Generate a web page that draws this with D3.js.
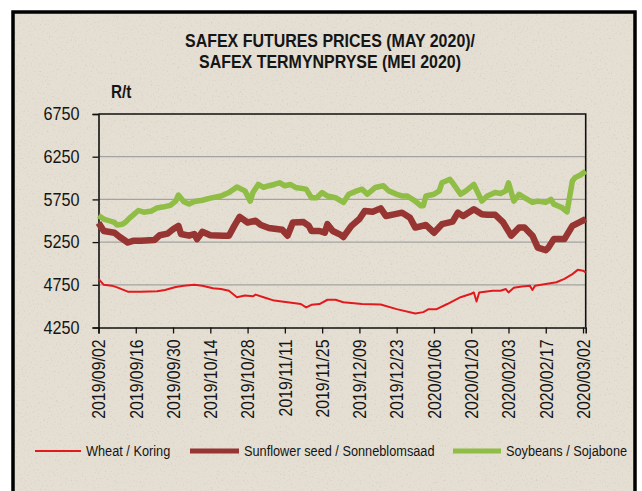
<!DOCTYPE html>
<html>
<head>
<meta charset="utf-8">
<script src="https://cdn.jsdelivr.net/npm/d3@7"></script>
<style>
  body { margin: 0; background: #fff; }
  svg text { font-family: "Liberation Sans", Arial, sans-serif; fill: #151515; }
</style>
</head>
<body>
<div id="chart"></div>
<script>
const titleLines = ["SAFEX FUTURES PRICES (MAY 2020)/", "SAFEX TERMYNPRYSE (MEI 2020)"];
const yTicks = [4250, 4750, 5250, 5750, 6250, 6750];
const xTicks = ["2019/09/02", "2019/09/16", "2019/09/30", "2019/10/14", "2019/10/28",
  "2019/11/11", "2019/11/25", "2019/12/09", "2019/12/23", "2020/01/06",
  "2020/01/20", "2020/02/03", "2020/02/17", "2020/03/02"];
const xDomain = ["2019/09/02", "2020/03/03"];
const seriesNames = ["Wheat / Koring", "Sunflower seed / Sonneblomsaad", "Soybeans / Sojabone"];

const wheat = [
  ["2019/09/02", 4820], ["2019/09/04", 4750], ["2019/09/07", 4740], ["2019/09/09", 4720],
  ["2019/09/13", 4670], ["2019/09/18", 4670], ["2019/09/24", 4675], ["2019/09/27", 4690],
  ["2019/10/01", 4725], ["2019/10/04", 4740], ["2019/10/08", 4750], ["2019/10/11", 4740],
  ["2019/10/15", 4710], ["2019/10/18", 4700], ["2019/10/21", 4680], ["2019/10/24", 4605],
  ["2019/10/27", 4625], ["2019/10/30", 4615], ["2019/10/31", 4635], ["2019/11/03", 4605],
  ["2019/11/07", 4565], ["2019/11/12", 4545], ["2019/11/17", 4525], ["2019/11/19", 4485],
  ["2019/11/21", 4515], ["2019/11/24", 4525], ["2019/11/27", 4575], ["2019/11/30", 4575],
  ["2019/12/03", 4545], ["2019/12/10", 4525], ["2019/12/17", 4520], ["2019/12/23", 4465],
  ["2019/12/30", 4415], ["2020/01/02", 4430], ["2020/01/04", 4465], ["2020/01/07", 4465],
  ["2020/01/11", 4525], ["2020/01/16", 4605], ["2020/01/20", 4645], ["2020/01/21", 4660],
  ["2020/01/22", 4555], ["2020/01/23", 4660], ["2020/01/28", 4680], ["2020/01/31", 4680],
  ["2020/02/02", 4700], ["2020/02/03", 4660], ["2020/02/05", 4715], ["2020/02/08", 4730],
  ["2020/02/11", 4740], ["2020/02/12", 4690], ["2020/02/13", 4740], ["2020/02/17", 4760],
  ["2020/02/21", 4780], ["2020/02/24", 4820], ["2020/02/27", 4875], ["2020/02/29", 4925],
  ["2020/03/02", 4915], ["2020/03/03", 4895]
];

const sunflower = [
  ["2019/09/02", 5475], ["2019/09/04", 5380], ["2019/09/08", 5360], ["2019/09/10", 5310],
  ["2019/09/13", 5245], ["2019/09/15", 5265], ["2019/09/18", 5265], ["2019/09/23", 5275],
  ["2019/09/25", 5330], ["2019/09/28", 5350], ["2019/09/30", 5400], ["2019/10/02", 5440],
  ["2019/10/03", 5345], ["2019/10/06", 5325], ["2019/10/08", 5345], ["2019/10/09", 5285],
  ["2019/10/11", 5370], ["2019/10/14", 5330], ["2019/10/19", 5325], ["2019/10/21", 5325],
  ["2019/10/23", 5440], ["2019/10/25", 5545], ["2019/10/28", 5480], ["2019/10/31", 5500],
  ["2019/11/02", 5450], ["2019/11/05", 5415], ["2019/11/10", 5395], ["2019/11/12", 5325],
  ["2019/11/14", 5480], ["2019/11/18", 5485], ["2019/11/20", 5440], ["2019/11/21", 5380],
  ["2019/11/24", 5380], ["2019/11/26", 5360], ["2019/11/27", 5460], ["2019/11/29", 5380],
  ["2019/12/02", 5335], ["2019/12/03", 5310], ["2019/12/06", 5440], ["2019/12/09", 5520],
  ["2019/12/11", 5615], ["2019/12/14", 5605], ["2019/12/17", 5645], ["2019/12/19", 5555],
  ["2019/12/22", 5575], ["2019/12/25", 5595], ["2019/12/28", 5535], ["2019/12/30", 5420],
  ["2020/01/03", 5450], ["2020/01/06", 5360], ["2020/01/09", 5460], ["2020/01/13", 5490],
  ["2020/01/15", 5595], ["2020/01/17", 5555], ["2020/01/21", 5635], ["2020/01/24", 5575],
  ["2020/01/26", 5570], ["2020/01/29", 5570], ["2020/02/01", 5480], ["2020/02/04", 5325],
  ["2020/02/07", 5420], ["2020/02/09", 5420], ["2020/02/12", 5325], ["2020/02/14", 5185],
  ["2020/02/17", 5155], ["2020/02/18", 5185], ["2020/02/20", 5285], ["2020/02/24", 5285],
  ["2020/02/27", 5440], ["2020/03/03", 5520]
];

const soybeans = [
  ["2019/09/02", 5560], ["2019/09/04", 5520], ["2019/09/06", 5500], ["2019/09/08", 5480],
  ["2019/09/09", 5450], ["2019/09/11", 5460], ["2019/09/12", 5480], ["2019/09/14", 5540],
  ["2019/09/17", 5620], ["2019/09/19", 5600], ["2019/09/22", 5615], ["2019/09/24", 5650],
  ["2019/09/26", 5660], ["2019/09/29", 5680], ["2019/10/01", 5730], ["2019/10/02", 5800],
  ["2019/10/04", 5725], ["2019/10/06", 5695], ["2019/10/08", 5725], ["2019/10/11", 5740],
  ["2019/10/14", 5765], ["2019/10/18", 5790], ["2019/10/21", 5830], ["2019/10/24", 5895],
  ["2019/10/27", 5850], ["2019/10/29", 5730], ["2019/10/30", 5830], ["2019/11/01", 5925],
  ["2019/11/03", 5890], ["2019/11/05", 5910], ["2019/11/07", 5925], ["2019/11/09", 5945],
  ["2019/11/11", 5910], ["2019/11/13", 5925], ["2019/11/15", 5890], ["2019/11/19", 5870],
  ["2019/11/21", 5770], ["2019/11/23", 5770], ["2019/11/25", 5830], ["2019/11/27", 5790],
  ["2019/11/30", 5770], ["2019/12/03", 5715], ["2019/12/05", 5810], ["2019/12/08", 5850],
  ["2019/12/10", 5870], ["2019/12/12", 5810], ["2019/12/15", 5890], ["2019/12/18", 5910],
  ["2019/12/20", 5850], ["2019/12/23", 5810], ["2019/12/25", 5790], ["2019/12/27", 5790],
  ["2019/12/30", 5730], ["2020/01/01", 5675], ["2020/01/02", 5675], ["2020/01/03", 5790],
  ["2020/01/06", 5810], ["2020/01/08", 5850], ["2020/01/09", 5945], ["2020/01/12", 5985],
  ["2020/01/13", 5945], ["2020/01/16", 5810], ["2020/01/18", 5850], ["2020/01/21", 5925],
  ["2020/01/24", 5730], ["2020/01/26", 5790], ["2020/01/29", 5830], ["2020/01/31", 5820],
  ["2020/02/02", 5850], ["2020/02/03", 5945], ["2020/02/05", 5730], ["2020/02/07", 5810],
  ["2020/02/09", 5770], ["2020/02/12", 5715], ["2020/02/14", 5730], ["2020/02/17", 5715],
  ["2020/02/19", 5750], ["2020/02/20", 5695], ["2020/02/23", 5655], ["2020/02/25", 5605],
  ["2020/02/27", 5965], ["2020/02/28", 6005], ["2020/03/01", 6035], ["2020/03/03", 6080]
];

const width = 642, height = 491;
const margin = { left: 98.5, right: 56.3, top: 114, bottom: 163.5 };
const parse = d3.timeParse("%Y/%m/%d");
const fmt = d3.timeFormat("%Y/%m/%d");

// squeeze text horizontally (no narrow font installed)
function condense(sel, k) {
  sel.each(function () {
    const w = this.getComputedTextLength();
    d3.select(this).attr("textLength", w * k).attr("lengthAdjust", "spacingAndGlyphs");
  });
}

const svg = d3.select("#chart").append("svg")
  .attr("width", width)
  .attr("height", height);

const defs = svg.append("defs");
const noise = defs.append("filter").attr("id", "speckle")
  .attr("x", 0).attr("y", 0).attr("width", 1).attr("height", 1);
noise.append("feTurbulence")
  .attr("type", "fractalNoise")
  .attr("baseFrequency", 0.55)
  .attr("numOctaves", 2)
  .attr("seed", 7);
noise.append("feColorMatrix")
  .attr("type", "matrix")
  .attr("values", "0 0 0 0 0.45  0 0 0 0 0.42  0 0 0 0 0.38  3.2 0 0 0 -1.85");

// outer frame
svg.append("rect")
  .attr("x", 13).attr("y", 12)
  .attr("width", 622).attr("height", 520)
  .attr("fill", "#e5dfd3");
svg.append("rect")
  .attr("x", 15).attr("y", 14)
  .attr("width", 618).attr("height", 516)
  .attr("filter", "url(#speckle)")
  .attr("opacity", 0.35);
svg.append("rect")
  .attr("x", 13).attr("y", 12)
  .attr("width", 622).attr("height", 520)
  .attr("fill", "none")
  .attr("stroke", "#000")
  .attr("stroke-width", 3.5);

const x = d3.scaleTime()
  .domain(xDomain.map(parse))
  .range([margin.left, width - margin.right]);

const y = d3.scaleLinear()
  .domain([yTicks[0], yTicks[yTicks.length - 1]])
  .range([height - margin.bottom, margin.top]);

// gridlines
svg.append("g")
  .selectAll("line")
  .data(yTicks.slice(1, -1))
  .enter()
  .append("line")
  .attr("x1", x.range()[0]).attr("x2", x.range()[1])
  .attr("y1", (d) => y(d)).attr("y2", (d) => y(d))
  .attr("stroke", "#a3a3a3")
  .attr("stroke-width", 1.2);

// plot box (top and right edges)
svg.append("path")
  .attr("d", `M${x.range()[0]},${y.range()[1]}H${x.range()[1]}V${y.range()[0]}`)
  .attr("fill", "none")
  .attr("stroke", "#111")
  .attr("stroke-width", 1.6);

const yAxis = svg.append("g")
  .attr("transform", `translate(${x.range()[0]},0)`)
  .call(d3.axisLeft(y).tickValues(yTicks).tickSize(6).tickPadding(13).tickFormat(d3.format("d")));

const xAxis = svg.append("g")
  .attr("transform", `translate(0,${y.range()[0]})`)
  .call(d3.axisBottom(x).tickValues(xTicks.map(parse)).tickSize(6).tickFormat(fmt));

[yAxis, xAxis].forEach((a) => {
  a.select(".domain").attr("stroke", "#111").attr("stroke-width", 1.6);
  a.selectAll(".tick line").attr("stroke", "#111").attr("stroke-width", 1.3);
  a.selectAll("text").style("font-size", "18px").attr("fill", "#151515");
});

xAxis.selectAll("text")
  .attr("transform", "rotate(-90)")
  .attr("text-anchor", "end")
  .attr("x", -12)
  .attr("y", 0)
  .attr("dy", "0.35em");

condense(yAxis.selectAll("text"), 0.9);
condense(xAxis.selectAll("text"), 0.88);

// lines
const line = d3.line()
  .x((d) => x(parse(d[0])))
  .y((d) => y(d[1]));

const styles = [
  { color: "#e21a1e", width: 2 },
  { color: "#963532", width: 6.5 },
  { color: "#8fbd45", width: 5.5 }
];
const allSeries = [soybeans, sunflower, wheat];
const styleOrder = [2, 1, 0];

svg.append("g")
  .selectAll("path")
  .data(allSeries)
  .enter()
  .append("path")
  .attr("d", line)
  .attr("fill", "none")
  .attr("stroke", (d, i) => styles[styleOrder[i]].color)
  .attr("stroke-width", (d, i) => styles[styleOrder[i]].width)
  .attr("stroke-linejoin", "round");

// title
const title = svg.append("g")
  .selectAll("text")
  .data(titleLines)
  .enter()
  .append("text")
  .attr("x", 330)
  .attr("y", (d, i) => 47 + i * 21)
  .attr("text-anchor", "middle")
  .style("font-size", "19px")
  .style("font-weight", "bold")
  .text((d) => d);
condense(title, 0.84);

const unit = svg.append("text")
  .attr("x", 111).attr("y", 98)
  .style("font-size", "18px")
  .style("font-weight", "bold")
  .text("R/t");
condense(unit, 0.85);

// legend
const legendPos = [[35, 81, 86], [190, 239, 244], [453, 501, 506]];
const legend = svg.append("g")
  .selectAll("g")
  .data(seriesNames)
  .enter()
  .append("g");

legend.append("line")
  .attr("x1", (d, i) => legendPos[i][0])
  .attr("x2", (d, i) => legendPos[i][1])
  .attr("y1", 451).attr("y2", 451)
  .attr("stroke", (d, i) => styles[i].color)
  .attr("stroke-width", (d, i) => Math.min(styles[i].width, 5));

const legendText = legend.append("text")
  .attr("x", (d, i) => legendPos[i][2])
  .attr("y", 451)
  .attr("dy", "0.35em")
  .style("font-size", "14px")
  .text((d) => d);
condense(legendText, 0.91);
</script>
</body>
</html>
